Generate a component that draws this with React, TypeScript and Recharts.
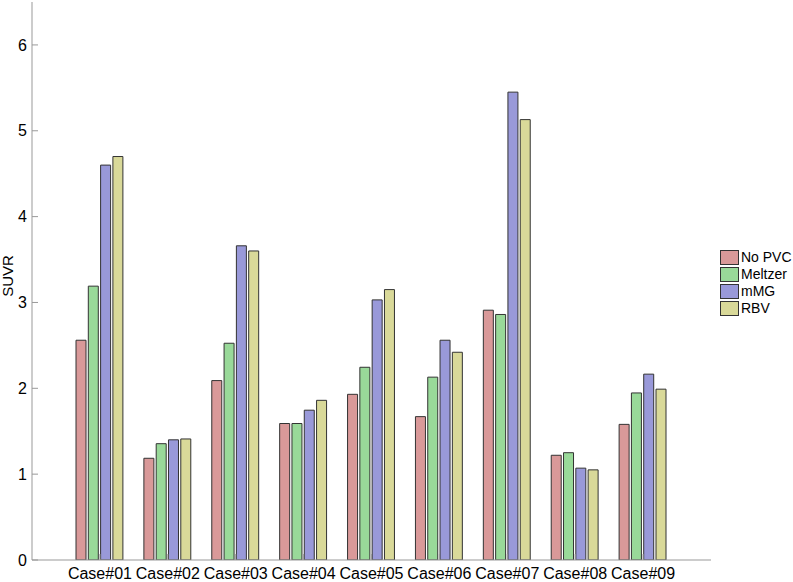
import { BarChart, Bar, XAxis, YAxis } from 'recharts';

const cases = ['Case#01', 'Case#02', 'Case#03', 'Case#04', 'Case#05', 'Case#06', 'Case#07', 'Case#08', 'Case#09'];
const noPvc = [2.56, 1.185, 2.09, 1.59, 1.93, 1.67, 2.91, 1.22, 1.58];
const meltzer = [3.19, 1.355, 2.525, 1.59, 2.245, 2.13, 2.86, 1.25, 1.946];
const mmg = [4.6, 1.4, 3.66, 1.745, 3.03, 2.56, 5.45, 1.07, 2.165];
const rbv = [4.7, 1.41, 3.6, 1.86, 3.15, 2.42, 5.13, 1.05, 1.99];
const yTicks = [0, 1, 2, 3, 4, 5, 6];

const series = [
  { key: 'noPvc', name: 'No PVC', color: '#d99999' },
  { key: 'meltzer', name: 'Meltzer', color: '#99d999' },
  { key: 'mmg', name: 'mMG', color: '#9999d9' },
  { key: 'rbv', name: 'RBV', color: '#d9d999' },
];

const data = cases.map((c, i) => ({
  name: c,
  noPvc: noPvc[i],
  meltzer: meltzer[i],
  mmg: mmg[i],
  rbv: rbv[i],
}));

const font = '"Liberation Sans", Helvetica, Arial, sans-serif';

function LegendBox() {
  return (
    <div
      style={{
        position: 'absolute',
        left: 720,
        top: 249,
        fontFamily: font,
        fontSize: 14,
        color: '#000',
        lineHeight: '17px',
      }}
    >
      {series.map((s) => (
        <div key={s.key} style={{ display: 'flex', alignItems: 'center', height: 17 }}>
          <div
            style={{
              width: 19,
              height: 15,
              background: s.color,
              border: '1px solid #333',
              boxSizing: 'border-box',
              marginRight: 2,
            }}
          />
          <span>{s.name}</span>
        </div>
      ))}
    </div>
  );
}

const YLabel = () => (
  <text
    x={13}
    y={276}
    transform="rotate(-90, 13, 276)"
    textAnchor="middle"
    fill="#000"
    fontSize={15}
    fontFamily={font}
  >
    SUVR
  </text>
);

export default function App() {
  return (
    <div style={{ position: 'absolute', left: 0, top: 0, width: 793, height: 582, background: '#fff' }}>
      <BarChart
        width={793}
        height={582}
        data={data}
        margin={{ top: 2, right: 82, bottom: 0, left: 0 }}
        barSize={10}
        barGap={2.3}
      >
        <XAxis
          dataKey="name"
          padding={{ left: 34, right: 34 }}
          height={22}
          tickSize={-6}
          tickMargin={14}
          stroke="#999"
          tick={{ fill: '#000', fontSize: 16, fontFamily: font }}
          interval={0}
        />
        <YAxis
          domain={[0, 6.5]}
          ticks={yTicks}
          width={32}
          tickSize={-6}
          tickMargin={11}
          stroke="#999"
          allowDataOverflow
          tick={{ fill: '#000', fontSize: 16, fontFamily: font }}
          label={<YLabel />}
        />
        {series.map((s) => (
          <Bar
            key={s.key}
            dataKey={s.key}
            name={s.name}
            fill={s.color}
            stroke="#333"
            strokeWidth={1}
            isAnimationActive={false}
          />
        ))}
      </BarChart>
      <LegendBox />
    </div>
  );
}
